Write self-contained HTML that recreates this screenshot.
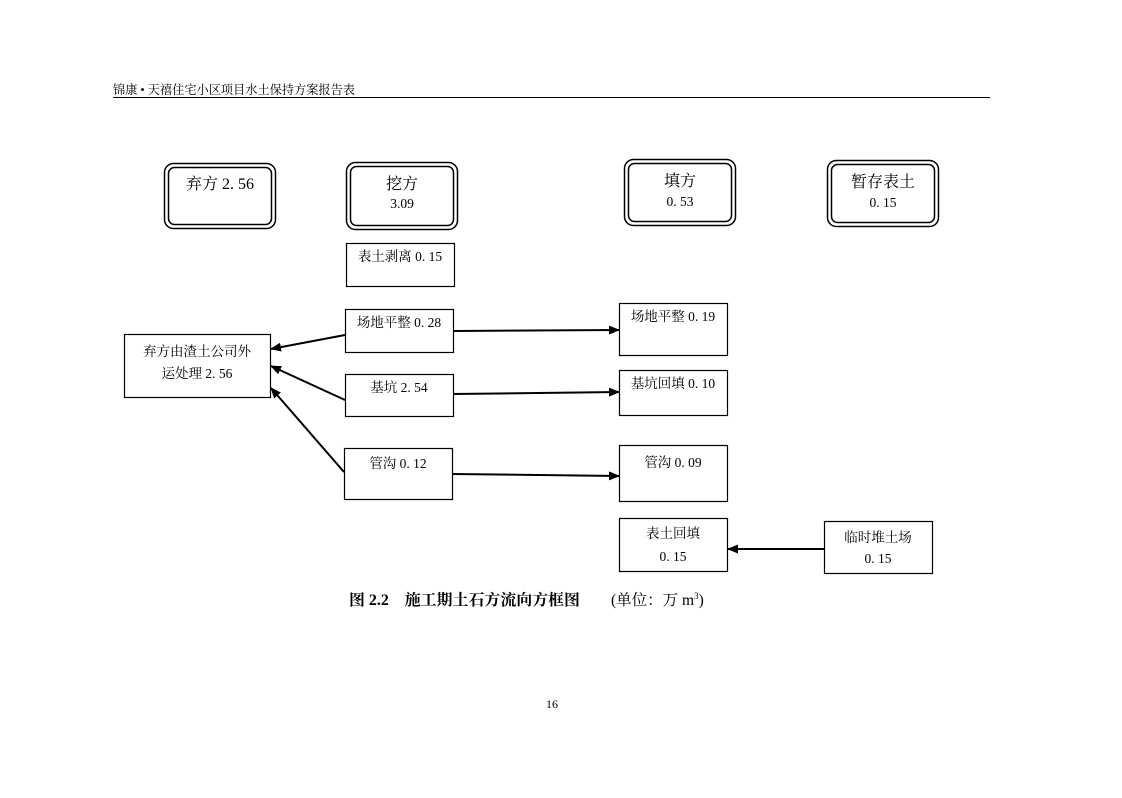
<!DOCTYPE html>
<html><head><meta charset="utf-8"><style>
html,body{margin:0;padding:0;background:#fff;}
svg text{font-family:"Liberation Serif","Noto Serif CJK SC",serif;fill:#000;}
</style></head><body>
<svg width="1122" height="793" viewBox="0 0 1122 793" xmlns="http://www.w3.org/2000/svg">
<defs><marker id="a" markerWidth="11" markerHeight="9" refX="10" refY="4.5" orient="auto" markerUnits="userSpaceOnUse"><path d="M0,0 L11,4.5 L0,9 z" fill="#000"/></marker></defs>
<text x="113" y="94" font-size="12.5" textLength="242" lengthAdjust="spacingAndGlyphs">锦康 • 天禧住宅小区项目水土保持方案报告表</text>
<line x1="113" y1="97.5" x2="990" y2="97.5" stroke="#000" stroke-width="1"/>
<g fill="none" stroke="#000">
<rect x="164.5" y="163.5" width="111" height="65" rx="9" stroke-width="1.5"/><rect x="168.5" y="167.5" width="103" height="57" rx="6" stroke-width="1.5"/>
<rect x="346.5" y="162.5" width="111" height="67" rx="9" stroke-width="1.5"/><rect x="350.5" y="166.5" width="103" height="59" rx="6" stroke-width="1.5"/>
<rect x="624.5" y="159.5" width="111" height="66" rx="9" stroke-width="1.5"/><rect x="628.5" y="163.5" width="103" height="58" rx="6" stroke-width="1.5"/>
<rect x="827.5" y="160.5" width="111" height="66" rx="9" stroke-width="1.5"/><rect x="831.5" y="164.5" width="103" height="58" rx="6" stroke-width="1.5"/>
<g stroke-width="1.2">
<rect x="346.5" y="243.5" width="108" height="43"/>
<rect x="345.5" y="309.5" width="108" height="43"/>
<rect x="345.5" y="374.5" width="108" height="42"/>
<rect x="344.5" y="448.5" width="108" height="51"/>
<rect x="124.5" y="334.5" width="146" height="63"/>
<rect x="619.5" y="303.5" width="108" height="52"/>
<rect x="619.5" y="370.5" width="108" height="45"/>
<rect x="619.5" y="445.5" width="108" height="56"/>
<rect x="619.5" y="518.5" width="108" height="53"/>
<rect x="824.5" y="521.5" width="108" height="52"/>
</g>
<g stroke-width="2" marker-end="url(#a)">
<line x1="345" y1="335" x2="271" y2="349"/>
<line x1="345" y1="400" x2="271" y2="366"/>
<line x1="344" y1="472" x2="271" y2="388"/>
<line x1="453" y1="331" x2="619" y2="330"/>
<line x1="453" y1="394" x2="619" y2="392"/>
<line x1="452" y1="474" x2="619" y2="476"/>
<line x1="824" y1="549" x2="728" y2="549"/>
</g>
</g>
<g font-size="16" text-anchor="middle">
<text x="220" y="189">弃方 2. 56</text>
<text x="402" y="189">挖方</text>
<text x="680" y="186">填方</text>
<text x="883" y="187">暂存表土</text>
</g>
<g font-size="13.5" text-anchor="middle">
<text x="402" y="208">3.09</text>
<text x="680" y="206">0. 53</text>
<text x="883" y="207">0. 15</text>
<text x="400" y="261">表土剥离 0. 15</text>
<text x="399" y="327">场地平整 0. 28</text>
<text x="399" y="392">基坑 2. 54</text>
<text x="398" y="468">管沟 0. 12</text>
<text x="197" y="356">弃方由渣土公司外</text>
<text x="197" y="378">运处理 2. 56</text>
<text x="673" y="321">场地平整 0. 19</text>
<text x="673" y="388">基坑回填 0. 10</text>
<text x="673" y="467">管沟 0. 09</text>
<text x="673" y="538">表土回填</text>
<text x="673" y="561">0. 15</text>
<text x="878" y="542">临时堆土场</text>
<text x="878" y="563">0. 15</text>
</g>
<text x="349" y="605" font-size="15.5" font-weight="bold" textLength="231" lengthAdjust="spacingAndGlyphs">图 2.2　施工期土石方流向方框图</text>
<text x="611" y="605" font-size="15.5">(单位：万 m<tspan font-size="9" dy="-6">3</tspan><tspan dy="6">)</tspan></text>
<text x="552" y="708" font-size="12" text-anchor="middle">16</text>
</svg>
</body></html>
